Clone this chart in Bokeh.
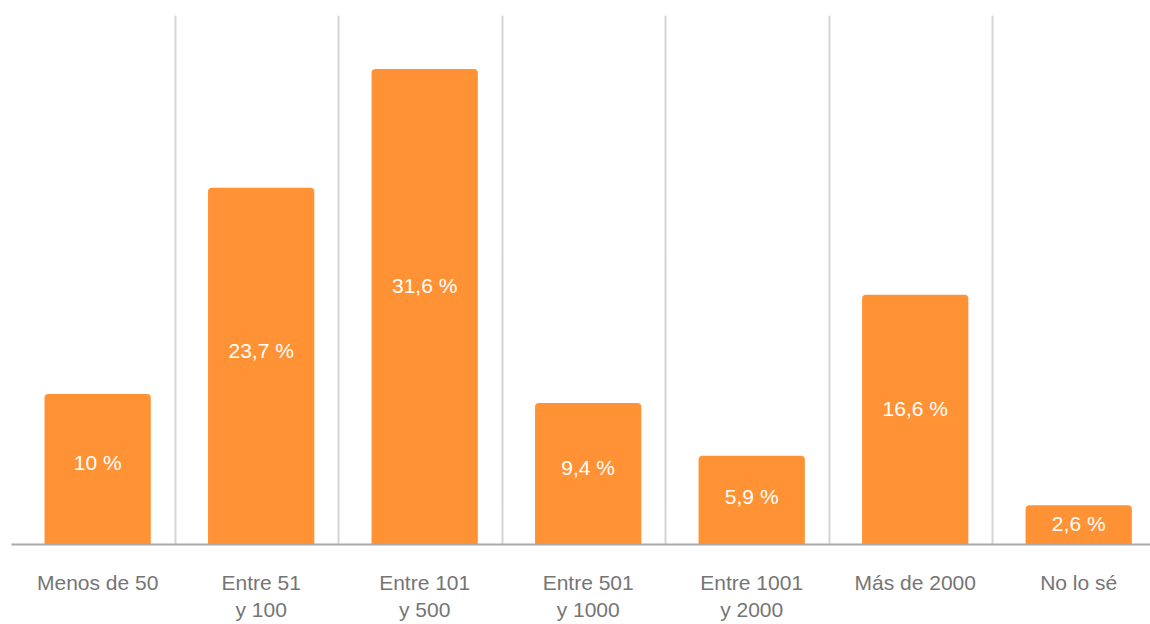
from bokeh.plotting import figure
from bokeh.models import ColumnDataSource, FixedTicker, Range1d
from bokeh.core.properties import value
from bokeh.embed import file_html
from bokeh.resources import INLINE

categories = ["Menos de 50", "Entre 51\ny 100", "Entre 101\ny 500", "Entre 501\ny 1000",
              "Entre 1001\ny 2000", "Más de 2000", "No lo sé"]
values = [10, 23.7, 31.6, 9.4, 5.9, 16.6, 2.6]
labels = ["10 %", "23,7 %", "31,6 %", "9,4 %", "5,9 %", "16,6 %", "2,6 %"]

n = len(categories)
xs = [i + 0.527 for i in range(n)]
label_y = [v * 0.545 for v in values]

src = ColumnDataSource(dict(x=xs, top=values, label=labels, ly=label_y))

p = figure(frame_width=1139, frame_height=529, output_backend="svg", toolbar_location=None,
           x_range=Range1d(0, 6.966), y_range=Range1d(0, 35.15),
           min_border_left=11, min_border_right=0, min_border_top=15, min_border_bottom=0)
p.outline_line_color = None
p.background_fill_color = "white"
p.border_fill_color = "white"

p.vbar(x="x", top="top", width=0.65, bottom=0, source=src, fill_color="#FF9234",
       line_color=None, border_radius=(4, 4, 0, 0))
p.text(x="x", y="ly", text="label", source=src, text_color="white",
       text_font=value("Liberation Sans"), text_font_size="21px",
       text_align="center", text_baseline="middle")

p.yaxis.visible = False
p.ygrid.visible = False
p.xgrid.ticker = FixedTicker(ticks=list(range(n + 1)))
p.xgrid.grid_line_color = "#d4d4d4"
p.xgrid.grid_line_width = 2

ax = p.xaxis[0]
ax.ticker = FixedTicker(ticks=xs)
ax.major_label_overrides = {x: c for x, c in zip(xs, categories)}
ax.major_tick_line_color = None
ax.minor_tick_line_color = None
ax.axis_line_color = "#a8a8a8"
ax.axis_line_width = 2
ax.major_label_text_color = "#757575"
ax.major_label_text_font = "Liberation Sans"
ax.major_label_text_font_size = "21px"
ax.major_label_standoff = 20

html = file_html(p, INLINE)
html = html.replace("<head>", "<head><style>html,body{overflow:hidden}</style>", 1)
open("out.html", "w").write(html)
